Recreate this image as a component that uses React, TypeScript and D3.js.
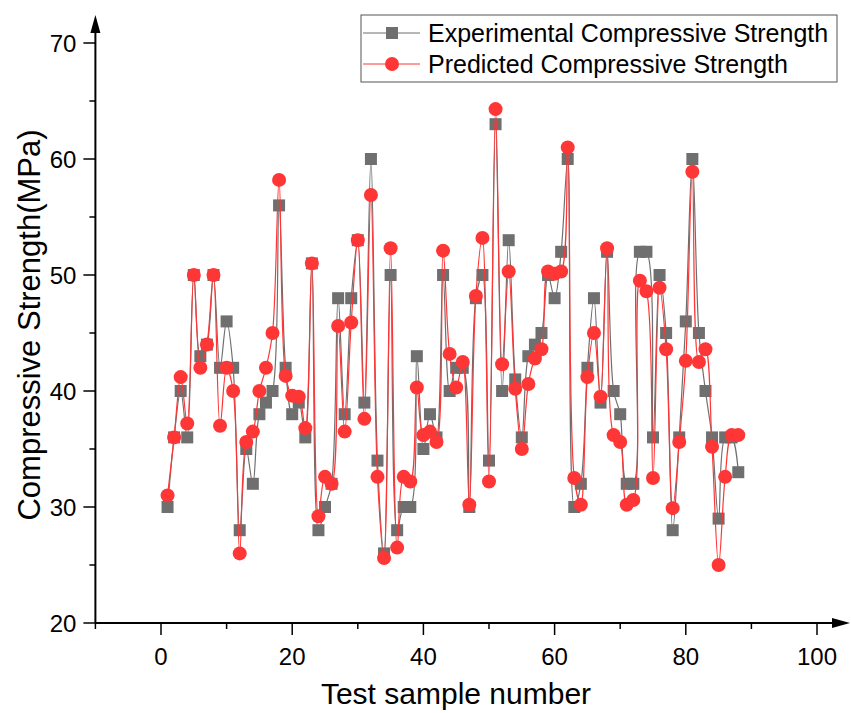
import React from "react";
import * as d3 from "d3";

const sampleIds: number[] = Array.from({ length: 88 }, (_, i) => i + 1);
const experimental: number[] = [
  30, 36, 40, 36, 50, 43, 44, 50, 42, 46, 42, 28, 35, 32, 38, 39, 40, 56, 42, 38,
  39, 36, 51, 28, 30, 32, 48, 38, 48, 53, 39, 60, 34, 26, 50, 28, 30, 30, 43, 35,
  38, 36, 50, 40, 42, 42, 30, 48, 50, 34, 63, 40, 53, 41, 36, 43, 44, 45, 50, 48,
  52, 60, 30, 32, 42, 48, 39, 52, 40, 38, 32, 32, 52, 52, 36, 50, 45, 28, 36, 46,
  60, 45, 40, 36, 29, 36, 36, 33,
];
const predicted: number[] = [
  31, 36, 41.2, 37.2, 50, 42, 44, 50, 37, 42, 40, 26, 35.6, 36.5, 40, 42, 45, 58.2, 41.3, 39.6,
  39.5, 36.8, 51, 29.2, 32.6, 32, 45.6, 36.5, 45.9, 53, 37.6, 56.9, 32.6, 25.6, 52.3, 26.5, 32.6, 32.2, 40.3, 36.2,
  36.5, 35.6, 52.1, 43.2, 40.3, 42.5, 30.2, 48.2, 53.2, 32.2, 64.3, 42.3, 50.3, 40.2, 35, 40.6, 42.8, 43.6, 50.3, 50.1,
  50.3, 61, 32.5, 30.2, 41.2, 45, 39.5, 52.3, 36.2, 35.6, 30.2, 30.6, 49.5, 48.6, 32.5, 48.9, 43.6, 29.9, 35.6, 42.6,
  58.9, 42.5, 43.6, 35.2, 25, 32.6, 36.2, 36.2,
];
const xTicks: number[] = [0, 20, 40, 60, 80, 100];
const xMinorTicks: number[] = [-10, 10, 30, 50, 70, 90];
const yTicks: number[] = [20, 30, 40, 50, 60, 70];
const yMinorTicks: number[] = [25, 35, 45, 55, 65];
const seriesNames: string[] = ["Experimental Compressive Strength", "Predicted Compressive Strength"];

const GRAY = "#6f6f6f";
const RED = "#ff3636";
const FONT = "'Liberation Sans', Arial, sans-serif";

export default function App() {
  const x = d3.scaleLinear().domain([0, 100]).range([161, 817]);
  const y = d3.scaleLinear().domain([20, 70]).range([623, 43]);
  const x0 = x(-10);
  const y0 = y(20);

  const line = d3
    .line<number>()
    .x((_, i) => x(sampleIds[i]))
    .y((d) => y(d))
    .curve(d3.curveCatmullRom.alpha(0.5));

  const sq = 12;
  const r = 7;

  return (
    <svg width={851} height={713} style={{ position: "absolute", left: 0, top: 0, background: "#fff" }}>
      {/* Series: experimental */}
      <path d={line(experimental) || ""} fill="none" stroke={GRAY} strokeWidth={1.2} />
      {experimental.map((v, i) => (
        <rect key={"e" + i} x={x(sampleIds[i]) - sq / 2} y={y(v) - sq / 2} width={sq} height={sq} fill={GRAY} />
      ))}
      {/* Series: predicted */}
      <path d={line(predicted) || ""} fill="none" stroke={RED} strokeWidth={1.2} />
      {predicted.map((v, i) => (
        <circle key={"p" + i} cx={x(sampleIds[i])} cy={y(v)} r={r} fill={RED} />
      ))}

      {/* Axes */}
      <line x1={x0} y1={y0} x2={x0} y2={28} stroke="#000" strokeWidth={2} />
      <path d={`M${x0},15 L${x0 - 5},33 L${x0 + 5},33 Z`} fill="#000" />
      <line x1={x0} y1={y0} x2={838} y2={y0} stroke="#000" strokeWidth={2} />
      <path d={`M850,${y0} L832,${y0 - 5} L832,${y0 + 5} Z`} fill="#000" />

      {yTicks.map((t) => (
        <g key={"yt" + t}>
          <line x1={x0 - 12} x2={x0} y1={y(t)} y2={y(t)} stroke="#000" strokeWidth={1.5} />
          <text x={x0 - 19} y={y(t)} dy="0.36em" textAnchor="end" fontFamily={FONT} fontSize={24}>
            {t}
          </text>
        </g>
      ))}
      {yMinorTicks.map((t) => (
        <line key={"ym" + t} x1={x0 - 6} x2={x0} y1={y(t)} y2={y(t)} stroke="#000" strokeWidth={1.5} />
      ))}
      {xTicks.map((t) => (
        <g key={"xt" + t}>
          <line x1={x(t)} x2={x(t)} y1={y0} y2={y0 + 12} stroke="#000" strokeWidth={1.5} />
          <text x={x(t)} y={y0 + 42} textAnchor="middle" fontFamily={FONT} fontSize={24}>
            {t}
          </text>
        </g>
      ))}
      {xMinorTicks.map((t) => (
        <line key={"xm" + t} x1={x(t)} x2={x(t)} y1={y0} y2={y0 + 6} stroke="#000" strokeWidth={1.5} />
      ))}

      {/* Axis titles */}
      <text x={456} y={704} textAnchor="middle" fontFamily={FONT} fontSize={30}>
        Test sample number
      </text>
      <text
        transform={`translate(40,${(y0 + 43) / 2 - 8}) rotate(-90)`}
        textAnchor="middle"
        fontFamily={FONT}
        fontSize={31}
      >
        Compressive Strength(MPa)
      </text>

      {/* Legend */}
      <rect x={361} y={15} width={476} height={67} fill="#fff" stroke="#555" strokeWidth={1} />
      <line x1={363} x2={420} y1={33} y2={33} stroke={GRAY} strokeWidth={1} />
      <rect x={392 - 6} y={33 - 6} width={12} height={12} fill={GRAY} />
      <text x={428} y={33} dy="0.36em" fontFamily={FONT} fontSize={25}>
        {seriesNames[0]}
      </text>
      <line x1={363} x2={420} y1={64} y2={64} stroke={RED} strokeWidth={1} />
      <circle cx={392} cy={64} r={7} fill={RED} />
      <text x={428} y={64} dy="0.36em" fontFamily={FONT} fontSize={25}>
        {seriesNames[1]}
      </text>
    </svg>
  );
}
